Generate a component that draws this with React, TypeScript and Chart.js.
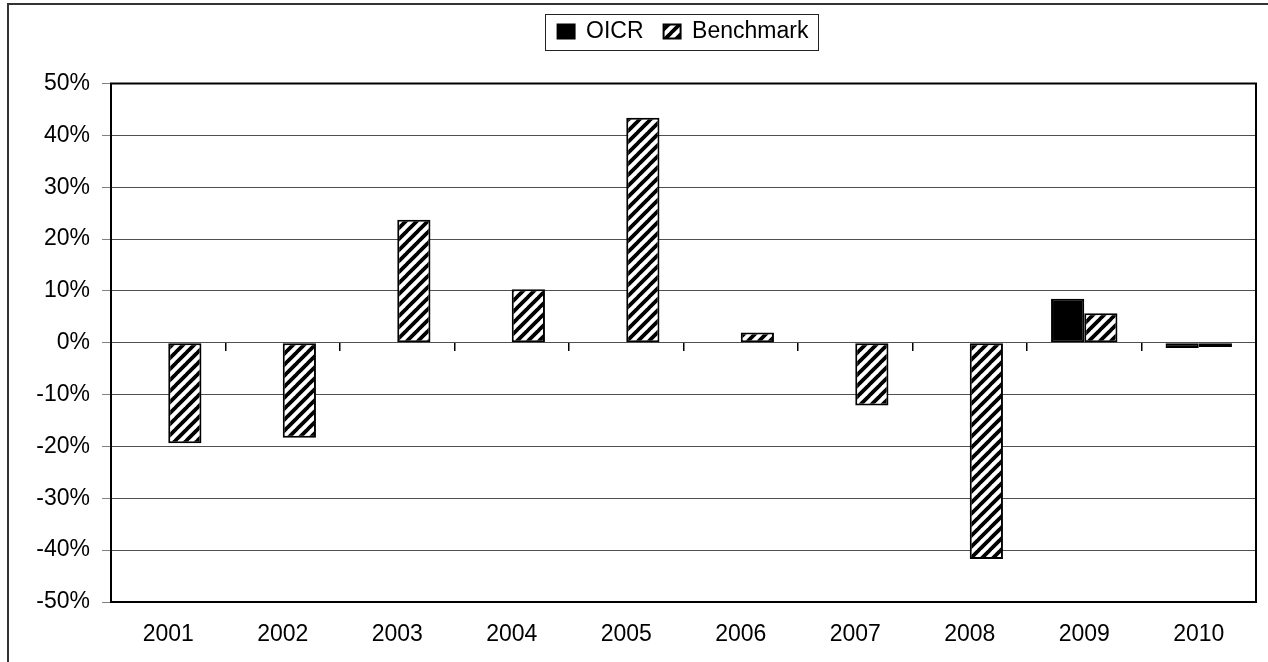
import React, { useEffect, useRef } from 'react';
import { Chart, registerables } from 'chart.js';

Chart.register(...registerables);

const categories: string[] = ['2001', '2002', '2003', '2004', '2005', '2006', '2007', '2008', '2009', '2010'];
const seriesNames: string[] = ['OICR', 'Benchmark'];
const oicrValues: (number | null)[] = [null, null, null, null, null, null, null, null, 8.5, -1.0];
const benchmarkValues: number[] = [-19.4, -18.3, 23.7, 10.3, 43.4, 2.0, -12.1, -41.7, 5.7, -0.8];
const yMin = -50;
const yMax = 50;
const yStep = 10;

const FONT = "'Liberation Sans', Arial, Helvetica, sans-serif";
const LEGEND_CENTER_X = 683;
const LEGEND_EXTRA_HEIGHT = 30.5;

function makeHatch(): CanvasPattern | string {
  const s = 11;
  const c = document.createElement('canvas');
  c.width = s;
  c.height = s;
  const g = c.getContext('2d');
  if (!g) return '#888';
  g.fillStyle = '#ffffff';
  g.fillRect(0, 0, s, s);
  g.strokeStyle = '#000000';
  g.lineWidth = 3.8;
  g.beginPath();
  for (let k = -1; k <= 1; k++) {
    g.moveTo(k * s - 1, s + 1);
    g.lineTo(k * s + s + 1, -1);
  }
  g.stroke();
  const p = g.createPattern(c, 'repeat');
  return p || '#888';
}

const legendShift = {
  id: 'legendShift',
  beforeLayout(chart: any) {
    const lg = chart.legend;
    if (!lg || lg.__patched) return;
    const orig = lg.fit;
    lg.fit = function (...args: any[]) {
      orig.apply(this, args);
      this.height += LEGEND_EXTRA_HEIGHT;
    };
    lg.__patched = true;
  },
  afterLayout(chart: any) {
    const lg = chart.legend;
    if (!lg) return;
    const dx = LEGEND_CENTER_X - (lg.left + lg.right) / 2;
    lg.left += dx;
    lg.right += dx;
  },
};

const frames = {
  id: 'frames',
  afterDraw(chart: any) {
    const { ctx, chartArea: a } = chart;
    ctx.save();
    ctx.strokeStyle = '#000';
    ctx.lineWidth = 2;
    ctx.strokeRect(a.left, a.top, a.right - a.left, a.bottom - a.top);
    const boxes = chart.legend?.legendHitBoxes;
    if (boxes && boxes.length) {
      const l = Math.min(...boxes.map((b: any) => b.left)) - 13;
      const r = Math.max(...boxes.map((b: any) => b.left + b.width)) + 9;
      const cy = boxes[0].top + boxes[0].height / 2;
      ctx.lineWidth = 1;
      ctx.strokeStyle = '#222';
      ctx.strokeRect(Math.round(l) + 0.5, Math.round(cy - 18) + 0.5, Math.round(r - l), 36);
    }
    ctx.restore();
  },
};

export default function App() {
  const ref = useRef<HTMLCanvasElement | null>(null);

  useEffect(() => {
    if (!ref.current) return;
    const hatch = makeHatch();
    const chart = new Chart(ref.current, {
      type: 'bar',
      data: {
        labels: categories,
        datasets: [
          {
            label: seriesNames[0],
            data: oicrValues,
            backgroundColor: '#000000',
            borderColor: '#000000',
            borderWidth: 2,
            borderSkipped: false,
            categoryPercentage: 0.58,
            barPercentage: 1.0,
          },
          {
            label: seriesNames[1],
            data: benchmarkValues,
            backgroundColor: hatch as any,
            borderColor: '#000000',
            borderWidth: 2,
            borderSkipped: false,
            categoryPercentage: 0.58,
            barPercentage: 1.0,
          },
        ],
      },
      options: {
        responsive: false,
        animation: false,
        layout: { padding: { left: 8, right: 12, top: 0, bottom: 0 } },
        plugins: {
          tooltip: { enabled: false },
          legend: {
            display: true,
            position: 'top',
            labels: {
              color: '#000',
              font: { family: FONT, size: 23 },
              boxWidth: 17,
              boxHeight: 14,
              padding: 20,
            },
          },
        },
        scales: {
          x: {
            type: 'category',
            position: 'bottom',
            grid: { display: false, drawTicks: false },
            border: { display: false },
            ticks: { color: '#000', font: { family: FONT, size: 23 }, padding: 19, maxRotation: 0 },
            afterFit: (scale: any) => {
              scale.height = 60;
            },
          },
          x2: {
            type: 'category',
            position: { y: 0 } as any,
            offset: true,
            grid: {
              display: true,
              drawOnChartArea: false,
              drawTicks: true,
              tickLength: 8,
              offset: true,
              color: '#000',
              lineWidth: 1.5,
            },
            ticks: { display: false },
            border: { display: false },
          },
          y: {
            min: yMin,
            max: yMax,
            ticks: {
              stepSize: yStep,
              color: '#000',
              font: { family: FONT, size: 23 },
              padding: 12,
              callback: (v: any) => `${v}%`,
            },
            grid: { color: '#505050', lineWidth: 1, tickLength: 9, drawTicks: true, tickColor: '#808080' },
            border: { color: '#000', width: 2 },
            afterFit: (scale: any) => {
              scale.width = 103;
            },
          },
        },
      },
      plugins: [legendShift, frames],
    });
    return () => chart.destroy();
  }, []);

  return (
    <div style={{ position: 'fixed', left: 0, top: 0, width: 1268, height: 662, overflow: 'hidden', background: '#fff' }}>
      <div
        style={{
          position: 'absolute',
          left: 7,
          top: 3,
          width: 1300,
          height: 700,
          border: '2px solid #333',
          boxSizing: 'border-box',
        }}
      />
      <canvas ref={ref} width={1268} height={662} style={{ position: 'absolute', left: 0, top: 0, width: 1268, height: 662 }} />
    </div>
  );
}
